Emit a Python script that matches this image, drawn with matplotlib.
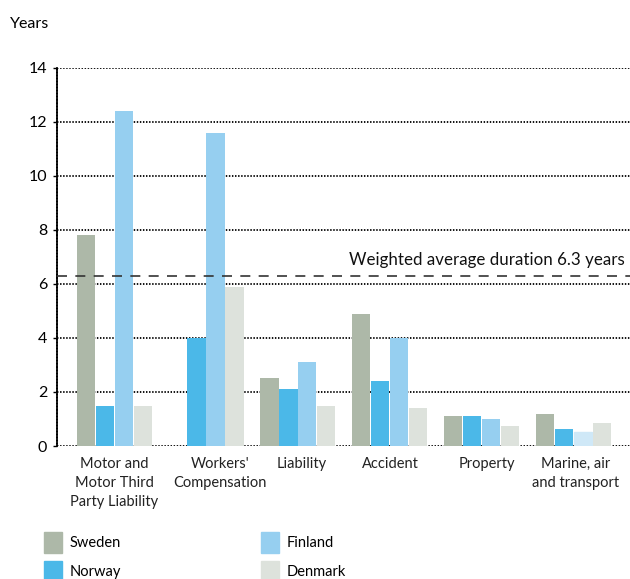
import numpy as np
import matplotlib
matplotlib.use('Agg')
from matplotlib import pyplot as plt
from matplotlib.patches import Rectangle

plt.rcParams['font.family'] = ['Lato', 'DejaVu Sans']

categories = ['Motor and\nMotor Third\nParty Liability', 'Workers\'\nCompensation',
              'Liability', 'Accident', 'Property', 'Marine, air\nand transport']
countries = ['Sweden', 'Norway', 'Finland', 'Denmark']
sweden  = [7.8, 0.0, 2.5, 4.9, 1.1, 1.2]
norway  = [1.5, 4.0, 2.1, 2.4, 1.1, 0.63]
finland = [12.4, 11.6, 3.1, 4.0, 1.0, 0.52]
denmark = [1.5, 5.9, 1.5, 1.4, 0.75, 0.85]
weighted_avg = 6.3

colors = ['#adb8a8', '#4bb8e8', '#96cff0', '#dde2dc']
series = [sweden, norway, finland, denmark]

fig = plt.figure(figsize=(6.3, 5.79), dpi=100)
ax = fig.add_axes([0.0905, 0.2297, 0.9095, 0.6529])

x = np.arange(len(categories))
w = 0.2065
for i, vals in enumerate(series):
    bars = ax.bar(x + (i - 1.5) * w, vals, width=w * 0.95, color=colors[i], zorder=3)
    if countries[i] == 'Finland':
        bars[-1].set_color('#cfe8f7')

dots = (0, (0.8, 0.9))
ax.set_xlim(-0.62, 5.61)
ax.set_ylim(0, 14)
ax.set_yticks(range(0, 15, 2))
ax.tick_params(axis='y', labelsize=11.5, length=3, width=1, pad=4)
ax.grid(axis='y', color='black', linestyle=dots, linewidth=1.3, zorder=1)
for s in ['top', 'right', 'bottom']:
    ax.spines[s].set_visible(False)
ax.spines['left'].set_linestyle(dots)
ax.spines['left'].set_linewidth(1.3)

label_x = x + np.array([0, 0.15, 0.04, 0, 0.05, 0.02])
ax.set_xticks(label_x)
ax.set_xticklabels(categories, fontsize=10.5, color='#222222', linespacing=1.45)
ax.tick_params(axis='x', length=0, pad=8)

ax.axhline(weighted_avg, color='#333333', linestyle=(0, (6, 5)), linewidth=1.2, zorder=4)
ax.text(0.99, weighted_avg + 0.3, 'Weighted average duration 6.3 years', transform=ax.get_yaxis_transform(),
        ha='right', va='bottom', fontsize=12.2, color='#111111')

fig.text(10 / 630, 1 - 24 / 579, 'Years', fontsize=11.5, va='center', ha='left')

# legend
pos = [(44, 532), (44, 561), (261, 532), (261, 561)]
for (px, py), c, name in zip(pos, colors, countries):
    fig.add_artist(Rectangle((px / 630, 1 - (py + 21) / 579), 18 / 630, 21 / 579,
                             color=c, transform=fig.transFigure))
    fig.text((px + 26) / 630, 1 - (py + 11) / 579, name, fontsize=10.5, va='center', ha='left')

fig.savefig('out.png', dpi=100)
